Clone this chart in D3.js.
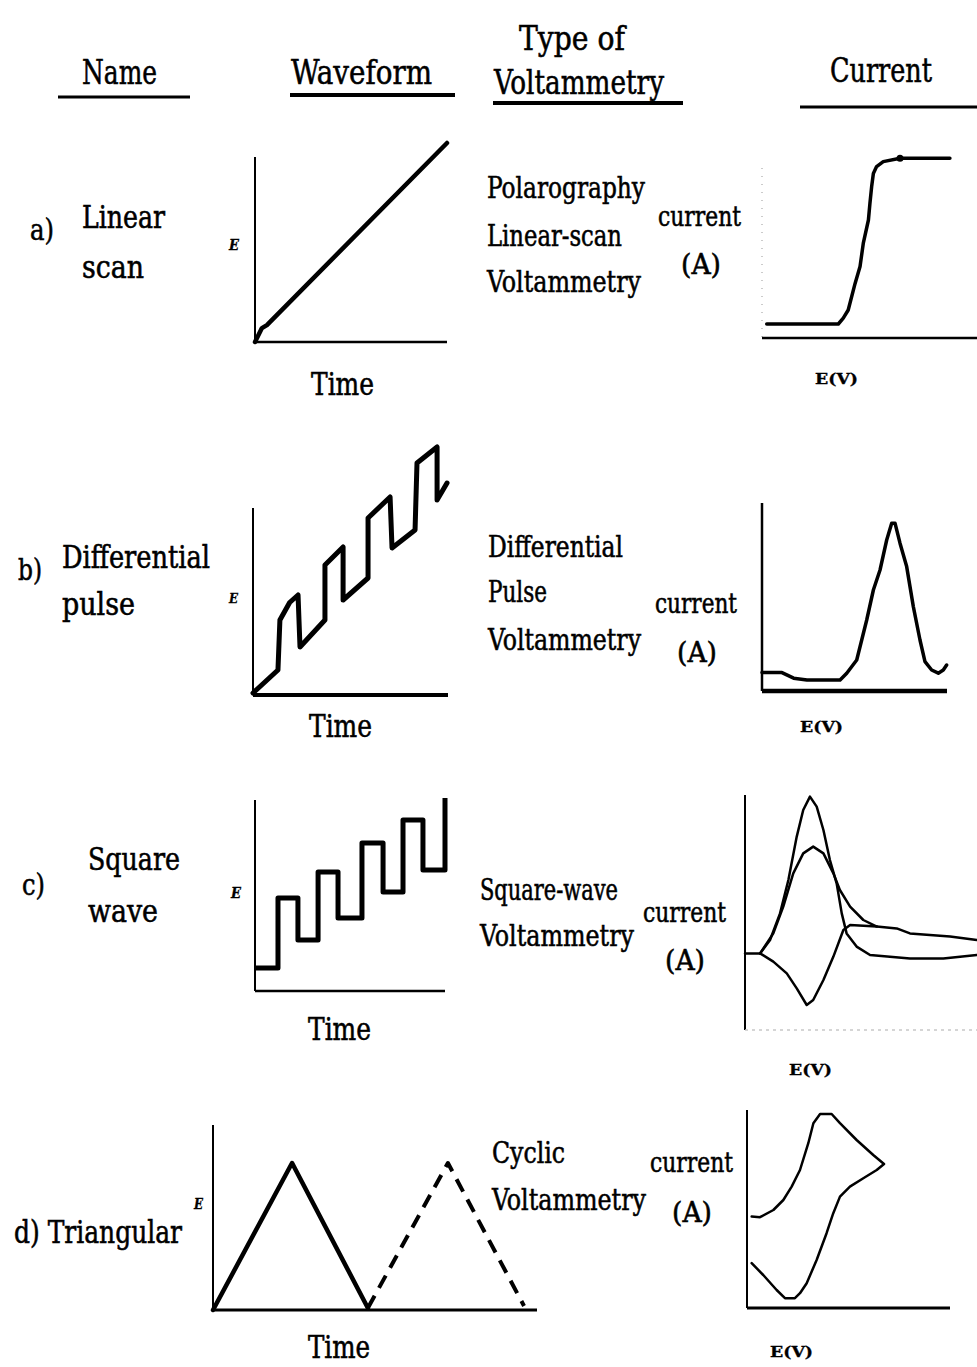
<!DOCTYPE html>
<html>
<head>
<meta charset="utf-8">
<script src="https://cdn.jsdelivr.net/npm/d3@7"></script>
<style>
  html, body { margin: 0; padding: 0; background: #fff; }
  svg { display: block; }
  text { font-family: "DejaVu Serif", "Liberation Serif", serif; fill: #000; font-stretch: condensed;
         stroke: #000; stroke-width: 0.55px; }
</style>
</head>
<body>
<svg id="fig" width="977" height="1367"></svg>
<script>
// ---- text content ----
const headers = ["Name", "Waveform", "Type of", "Voltammetry", "Current"];
const rowLetters = ["a)", "b)", "c)", "d)"];
const rowNames = [["Linear", "scan"], ["Differential", "pulse"], ["Square", "wave"], ["Triangular"]];
const techniques = [
  ["Polarography", "Linear-scan", "Voltammetry"],
  ["Differential", "Pulse", "Voltammetry"],
  ["Square-wave", "Voltammetry"],
  ["Cyclic", "Voltammetry"]
];
const currentTitle = ["current", "(A)"];
const timeTitle = "Time";
const potentialTitle = "E(V)";
const potentialSymbol = "E";

// ---- waveforms: [time, potential] ----
const linearScan = [[0, 0], [0.36, 0.7], [0.62, 0.85], [10, 10]];
const diffPulse = [[0, 0.08], [1.28, 1.0], [1.38, 3.0], [1.88, 3.7], [2.31, 4.0], [2.41, 1.92], [3.69, 3.0], [3.69, 5.2],
  [4.62, 5.92], [4.62, 3.8], [5.9, 4.68], [5.9, 7.08], [7.03, 7.92], [7.13, 5.88], [8.31, 6.6], [8.41, 9.28],
  [9.44, 9.92], [9.44, 7.8], [9.95, 8.48]];
const squareWave = [[0, 1.15], [1.21, 4.65], [2.26, 2.55], [3.32, 5.95], [4.37, 3.65], [5.63, 7.4], [6.74, 4.95],
  [7.79, 8.55], [8.84, 6.05], [10, 9.65]];
const triangleFirst = [[0, 0], [2.44, 7.35], [4.78, 0.1]];
const triangleSecond = [[4.78, 0.1], [7.25, 7.35], [9.6, 0.2]];

// ---- responses: [potential, current] ----
const polarogram = [[0.22, 0.7], [3.55, 0.7], [3.78, 0.99], [4.01, 1.4], [4.33, 2.73], [4.56, 3.57], [4.71, 4.73],
  [4.95, 5.9], [5.02, 6.73], [5.1, 7.57], [5.18, 8.23], [5.33, 8.57], [5.64, 8.82], [6.42, 8.99], [8.74, 8.99]];
const polarogramMarker = [[6.42, 8.99]];
const dpvPeak = [[0, 0.92], [1.08, 0.92], [1.71, 0.64], [2.43, 0.55], [4.22, 0.55], [4.58, 0.89], [5.12, 1.55],
  [5.66, 3.55], [6.02, 5.05], [6.38, 6.05], [6.74, 7.55], [7.01, 8.39], [7.19, 8.39], [7.46, 7.39], [7.82, 6.22],
  [8.18, 4.22], [8.54, 2.55], [8.81, 1.47], [9.17, 1.05], [9.53, 0.89], [9.8, 1.05], [9.98, 1.3]];
const swvNet = [[0, 3.83], [0.65, 3.83], [1.08, 4.5], [1.51, 5.83], [1.87, 7.5], [2.23, 9.67], [2.51, 11], [2.8, 11.67],
  [3.09, 11.17], [3.38, 10], [3.66, 8.5], [3.95, 7.33], [4.17, 5.83], [4.38, 4.83], [4.81, 4.17], [5.39, 3.75],
  [7.11, 3.58], [8.55, 3.58], [9.99, 3.75]];
const swvForward = [[0.65, 3.83], [1.22, 4.83], [1.65, 6.17], [2.08, 7.83], [2.51, 8.83], [2.94, 9.17], [3.38, 8.83],
  [3.81, 7.83], [4.09, 7.0], [4.53, 6.17], [5.1, 5.5], [5.68, 5.17], [6.54, 5.08], [7.11, 4.83], [7.97, 4.75],
  [8.84, 4.67], [9.99, 4.5]];
const swvReverse = [[0.65, 3.83], [1.22, 3.42], [1.8, 2.83], [2.23, 2.08], [2.66, 1.25], [2.94, 1.5], [3.38, 2.5],
  [3.81, 3.67], [4.24, 5.0], [4.53, 5.25], [5.68, 5.17]];
const cvLoop = [[0.23, 4.57], [0.64, 4.54], [1.3, 4.9], [1.79, 5.4], [2.2, 6.07], [2.61, 6.9], [3.02, 8.24], [3.27, 9.24],
  [3.6, 9.7], [4.17, 9.7], [4.58, 9.24], [5.4, 8.4], [6.22, 7.65], [6.75, 7.2], [6.39, 6.9], [5.73, 6.49], [5.07, 6.07],
  [4.58, 5.57], [4.25, 4.74], [3.92, 3.74], [3.43, 2.4], [2.94, 1.24], [2.61, 0.74], [2.36, 0.49], [1.87, 0.49],
  [1.46, 0.9], [0.8, 1.65], [0.23, 2.24]];

// ---- drawing ----
const svg = d3.select("#fig");

function label(str, x, y, size, width, extra) {
  const t = svg.append("text").attr("x", x).attr("y", y).attr("font-size", size).text(str);
  if (width) t.attr("textLength", width).attr("lengthAdjust", "spacingAndGlyphs");
  if (extra) extra(t);
  return t;
}
function rule(x1, x2, y, w) {
  svg.append("line").attr("x1", x1).attr("x2", x2).attr("y1", y).attr("y2", y)
    .attr("stroke", "#000").attr("stroke-width", w || 3);
}
const symbolStyle = t => t.attr("font-style", "italic").attr("font-weight", "bold").style("stroke-width", "0.3px");
const evStyle = t => t.attr("font-weight", "bold").style("stroke-width", "0.3px");

// panel: data domain mapped into a pixel box
function panel(box) {
  const x = d3.scaleLinear().domain(box.xDomain || [0, 10]).range([box.x0, box.x1]);
  const y = d3.scaleLinear().domain(box.yDomain || [0, 10]).range([box.yb, box.yt]);
  const g = svg.append("g");
  g.append("line").attr("x1", x.range()[0]).attr("x2", x.range()[0])
    .attr("y1", box.axisTop).attr("y2", y.range()[0])
    .attr("stroke", box.yAxisColor || "#000").attr("stroke-width", box.yAxisWidth || 2)
    .attr("stroke-dasharray", box.yAxisDash || null);
  g.append("line").attr("x1", x.range()[0]).attr("x2", x.range()[1])
    .attr("y1", y.range()[0]).attr("y2", y.range()[0])
    .attr("stroke", box.xAxisColor || "#000").attr("stroke-width", box.xAxisWidth || 3)
    .attr("stroke-dasharray", box.xAxisDash || null);
  return { x, y, g };
}
function trace(p, data, opts) {
  const o = opts || {};
  const line = d3.line().x(d => p.x(d[0])).y(d => p.y(d[1])).curve(o.curve || d3.curveLinear);
  p.g.append("path").datum(data).attr("d", line)
    .attr("fill", "none").attr("stroke", "#000").attr("stroke-width", o.width || 4)
    .attr("stroke-linejoin", "round").attr("stroke-linecap", o.cap || "round")
    .attr("stroke-dasharray", o.dash || null);
}

// header row
label(headers[0], 82, 84, 34, 75);
rule(58, 190, 97, 3);
label(headers[1], 291, 84, 34, 141);
rule(290, 455, 95, 4);
label(headers[2], 519, 50, 34, 106);
label(headers[3], 494, 94, 34, 170);
rule(493, 683, 103, 4);
label(headers[4], 830, 82, 34, 102);
rule(800, 977, 107, 3);

// ---- row a ----
label(rowLetters[0], 30, 240, 30, 24);
label(rowNames[0][0], 82, 228, 32, 83);
label(rowNames[0][1], 82, 278, 32, 62);
label(techniques[0][0], 487, 198, 30, 158);
label(techniques[0][1], 487, 246, 30, 135);
label(techniques[0][2], 487, 292, 30, 154);
label(currentTitle[0], 658, 226, 28, 83);
label(currentTitle[1], 681, 274, 28, 40);
label(timeTitle, 311, 395, 32, 63);
label(potentialSymbol, 229, 250, 15, 10, symbolStyle);
label(potentialTitle, 815, 384, 15, 43, evStyle);

const pa = panel({ x0: 255, x1: 447, yb: 342, yt: 143, axisTop: 157, xAxisWidth: 2.5, yAxisWidth: 2 });
trace(pa, linearScan, { width: 4.5 });

const ca = panel({ x0: 762, x1: 977, yb: 338, yt: 138, axisTop: 168, xAxisWidth: 2.5,
  yAxisColor: "#bbb", yAxisWidth: 1.5, yAxisDash: "1,7" });
trace(ca, polarogram, { width: 3.5 });
ca.g.selectAll("circle").data(polarogramMarker).join("circle")
  .attr("cx", d => ca.x(d[0])).attr("cy", d => ca.y(d[1])).attr("r", 3.5).attr("fill", "#000");

// ---- row b ----
label(rowLetters[1], 18, 580, 30, 24);
label(rowNames[1][0], 62, 568, 32, 148);
label(rowNames[1][1], 62, 615, 32, 73);
label(techniques[1][0], 488, 557, 30, 135);
label(techniques[1][1], 488, 602, 30, 59);
label(techniques[1][2], 488, 650, 30, 153);
label(currentTitle[0], 655, 613, 28, 82);
label(currentTitle[1], 677, 662, 28, 40);
label(timeTitle, 309, 737, 32, 63);
label(potentialSymbol, 229, 603, 13, 9, symbolStyle);
label(potentialTitle, 800, 732, 15, 43, evStyle);

const pb = panel({ x0: 253, x1: 448, yb: 695, yt: 445, axisTop: 508, xAxisWidth: 4, yAxisWidth: 2 });
trace(pb, diffPulse, { width: 5 });

const cb = panel({ x0: 762, x1: 947, yb: 691, yt: 491, axisTop: 503, xAxisWidth: 4.5, yAxisWidth: 2.5 });
trace(cb, dpvPeak, { width: 3.5 });

// ---- row c ----
label(rowLetters[2], 22, 895, 30, 23);
label(rowNames[2][0], 88, 870, 32, 92);
label(rowNames[2][1], 88, 922, 32, 70);
label(techniques[2][0], 480, 900, 30, 138);
label(techniques[2][1], 480, 946, 30, 154);
label(currentTitle[0], 643, 922, 28, 83);
label(currentTitle[1], 665, 970, 28, 40);
label(timeTitle, 308, 1040, 32, 63);
label(potentialSymbol, 231, 898, 15, 10, symbolStyle);
label(potentialTitle, 789, 1075, 15, 43, evStyle);

const pc = panel({ x0: 255, x1: 445, yb: 991, yt: 791, axisTop: 800, xAxisWidth: 2.5, yAxisWidth: 2 });
trace(pc, squareWave, { width: 5, curve: d3.curveStepAfter, cap: "butt" });

const cc = panel({ x0: 745, x1: 977, yb: 1030, yt: 790, yDomain: [0, 12], axisTop: 795, yAxisWidth: 2,
  xAxisColor: "#c8c8c8", xAxisWidth: 1.5, xAxisDash: "3,4" });
trace(cc, swvNet, { width: 2.5 });
trace(cc, swvForward, { width: 2.5 });
trace(cc, swvReverse, { width: 2.5 });

// ---- row d ----
label(rowLetters[3] + " " + rowNames[3][0], 14, 1243, 32, 168);
label(potentialSymbol, 194, 1209, 14, 9, symbolStyle);
label(techniques[3][0], 492, 1163, 30, 73);
label(techniques[3][1], 492, 1210, 30, 154);
label(currentTitle[0], 650, 1172, 28, 83);
label(currentTitle[1], 672, 1222, 28, 40);
label(timeTitle, 308, 1358, 31, 62);
label(potentialTitle, 770, 1357, 15, 43, evStyle);

const pd = panel({ x0: 213, x1: 537, yb: 1310, yt: 1110, axisTop: 1125, xAxisWidth: 3, yAxisWidth: 2 });
trace(pd, triangleFirst, { width: 4.5 });
trace(pd, triangleSecond, { width: 4, dash: "14,9", cap: "butt" });

const cd = panel({ x0: 747, x1: 950, yb: 1308, yt: 1108, axisTop: 1110, xAxisWidth: 3, yAxisWidth: 2 });
trace(cd, cvLoop, { width: 2.5 });
</script>
</body>
</html>
